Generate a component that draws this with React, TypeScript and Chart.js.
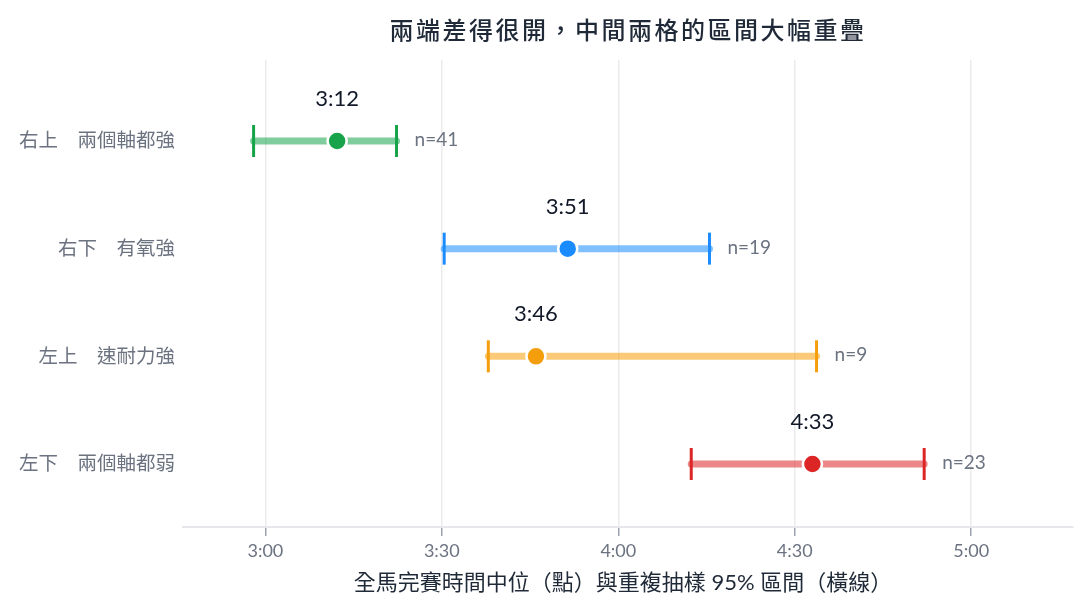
import React, { useEffect, useRef } from "react";
import { Chart, registerables } from "chart.js";

Chart.register(...registerables);

const categories = ["右上　兩個軸都強", "右下　有氧強", "左上　速耐力強", "左下　兩個軸都弱"];
const medians = [192.2, 231.4, 226, 273];
const lows = [178, 210.4, 217.9, 252.4];
const highs = [202.3, 255.5, 273.7, 292];
const counts = [41, 19, 9, 23];
const xTickValues = [180, 210, 240, 270, 300];
const colors = ["#16a34a", "#1a8cff", "#f59e0b", "#dc2626"];

const titleText = "兩端差得很開，中間兩格的區間大幅重疊";
const xTitleText = "全馬完賽時間中位（點）與重複抽樣 95% 區間（橫線）";
const FONT = '"Lato", "Noto Sans CJK TC", sans-serif';

function fmt(m: number): string {
  const h = Math.floor(m / 60);
  const mm = Math.round(m - h * 60);
  return `${h}:${mm < 10 ? "0" + mm : mm}`;
}

function alpha(hex: string, a: number): string {
  const r = parseInt(hex.slice(1, 3), 16);
  const g = parseInt(hex.slice(3, 5), 16);
  const b = parseInt(hex.slice(5, 7), 16);
  return `rgba(${r},${g},${b},${a})`;
}

export default function App() {
  const ref = useRef<HTMLCanvasElement | null>(null);
  useEffect(() => {
    document.body.style.margin = "0";
    const canvas = ref.current;
    if (!canvas) return;

    const datasets: any[] = [];
    categories.forEach((_, i) => {
      datasets.push({
        type: "scatter",
        data: [
          { x: lows[i], y: i },
          { x: highs[i], y: i },
        ],
        showLine: true,
        borderColor: alpha(colors[i], 0.55),
        borderWidth: 7,
        borderCapStyle: "round",
        pointRadius: 0,
        order: 3,
      });
      datasets.push({
        type: "scatter",
        data: [
          { x: lows[i], y: i },
          { x: highs[i], y: i },
        ],
        pointStyle: "line",
        rotation: 90,
        pointRadius: 16,
        borderWidth: 3,
        borderColor: colors[i],
        backgroundColor: colors[i],
        order: 2,
      });
      datasets.push({
        type: "scatter",
        data: [{ x: medians[i], y: i }],
        pointRadius: 9.5,
        borderWidth: 2.5,
        borderColor: "#ffffff",
        backgroundColor: colors[i],
        order: 1,
      });
    });

    const textPlugin = {
      id: "texts",
      afterDraw(chart: any) {
        const ctx = chart.ctx;
        const xs = chart.scales.x;
        const ys = chart.scales.y;
        const ca = chart.chartArea;
        ctx.save();
        // title
        ctx.fillStyle = "#1f2937";
        ctx.font = `500 24px ${FONT}`;
        ctx.textAlign = "center";
        ctx.textBaseline = "middle";
        try { (ctx as any).letterSpacing = "2.5px"; } catch (e) {}
        ctx.fillText(titleText, (ca.left + ca.right) / 2, 31);
        try { (ctx as any).letterSpacing = "0px"; } catch (e) {}
        // x axis title
        ctx.fillStyle = "#1f2937";
        ctx.font = `400 22px ${FONT}`;
        ctx.fillText(xTitleText, (ca.left + ca.right) / 2 - 5, 583);
        // labels
        categories.forEach((_, i) => {
          const y = ys.getPixelForValue(i);
          ctx.fillStyle = "#111827";
          ctx.font = `22px ${FONT}`;
          ctx.textAlign = "center";
          ctx.fillText(fmt(medians[i]), xs.getPixelForValue(medians[i]), y - 42);
          ctx.fillStyle = "#6b7280";
          ctx.font = `19px ${FONT}`;
          ctx.textAlign = "left";
          ctx.fillText(`n=${counts[i]}`, xs.getPixelForValue(highs[i]) + 18, y - 1);
        });
        ctx.restore();
      },
    };

    const chart = new Chart(canvas, {
      type: "scatter",
      data: { datasets },
      options: {
        animation: false,
        responsive: false,
        layout: { padding: { top: 60, right: 6, left: 0, bottom: 0 } },
        plugins: {
          legend: { display: false },
          tooltip: { enabled: false },
          title: { display: false },
        },
        scales: {
          x: {
            type: "linear",
            min: 166,
            max: 317.3,
            afterBuildTicks: (scale: any) => {
              scale.ticks = xTickValues.map((v) => ({ value: v }));
            },
            afterFit: (scale: any) => {
              scale.height = 84;
            },
            ticks: {
              callback: (v: any) => fmt(Number(v)),
              color: "#6b7280",
              font: { family: FONT, size: 18 },
              padding: 4,
              maxRotation: 0,
            },
            grid: {
              color: "rgba(0,0,0,0.08)",
              lineWidth: 1.5,
              tickLength: 9,
              tickColor: "#9ca3af",
              tickWidth: 1.5,
            },
            border: { color: "#e5e7eb", width: 2 },
          },
          y: {
            type: "linear",
            reverse: true,
            min: -0.752,
            max: 3.585,
            afterBuildTicks: (scale: any) => {
              scale.ticks = categories.map((_, i) => ({ value: i }));
            },
            afterFit: (scale: any) => {
              scale.width = 183;
            },
            ticks: {
              callback: (v: any) => categories[Number(v)] ?? "",
              color: "#6b7280",
              font: { family: FONT, size: 19.5 },
              padding: 0,
            },
            grid: { display: false },
            border: { display: false },
          },
        },
      },
      plugins: [textPlugin],
    } as any);
    return () => chart.destroy();
  }, []);

  return (
    <div style={{ width: 1092, height: 611 }}>
      <canvas ref={ref} width={1092} height={611} style={{ width: 1092, height: 611, display: "block" }} />
    </div>
  );
}
